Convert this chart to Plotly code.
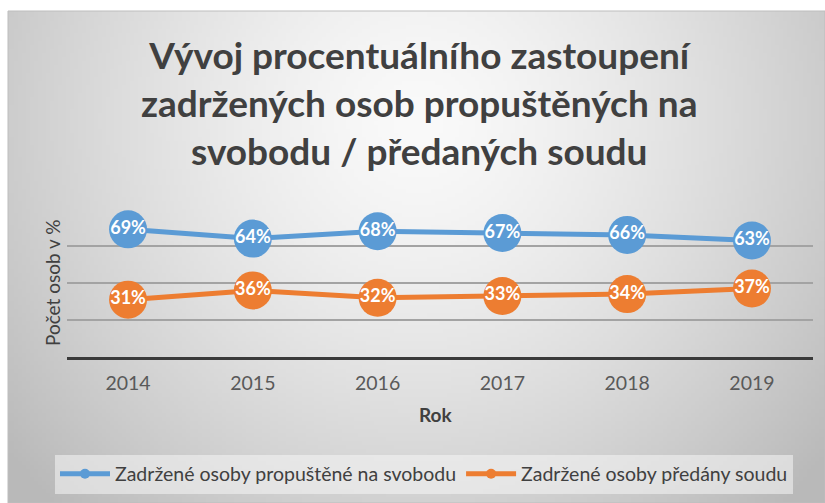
import base64
import struct
import zlib

import numpy as np
import plotly.graph_objects as go

years = ["2014", "2015", "2016", "2017", "2018", "2019"]
released_pct = [69, 64, 68, 67, 66, 63]
court_pct = [31, 36, 32, 33, 34, 37]
series_names = [
    "Zadržené osoby propuštěné na svobodu",
    "Zadržené osoby předány soudu",
]
chart_title = "Vývoj procentuálního zastoupení<br>zadržených osob propuštěných na<br>svobodu / předaných soudu"

BLUE = "#5B9BD5"
ORANGE = "#ED7D31"
TEXT = "#404040"
FONT = "Lato, 'Open Sans', sans-serif"

W, H = 825, 503


def px_x(x):
    return x / W


def px_y(y):
    return 1 - y / H


def gradient_png(w, h):
    """Radial grey gradient (light near the title) encoded as a PNG data URI."""
    yy, xx = np.mgrid[0:h, 0:w]
    cx, cy = 0.5 * w, 0.22 * h
    d = np.sqrt(((xx - cx) / (0.6 * w)) ** 2 + ((yy - cy) / (1.0 * h)) ** 2)
    v = 250 - 58 * np.clip(d, 0, 1.3) ** 1.4
    v = np.clip(v, 185, 255).astype(np.uint8)
    rgb = np.repeat(v[:, :, None], 3, axis=2)
    raw = b"".join(b"\x00" + row.tobytes() for row in rgb)

    def chunk(tag, data):
        return (struct.pack(">I", len(data)) + tag + data
                + struct.pack(">I", zlib.crc32(tag + data) & 0xFFFFFFFF))

    png = (b"\x89PNG\r\n\x1a\n"
           + chunk(b"IHDR", struct.pack(">IIBBBBB", w, h, 8, 2, 0, 0, 0))
           + chunk(b"IDAT", zlib.compress(raw, 9))
           + chunk(b"IEND", b""))
    return "data:image/png;base64," + base64.b64encode(png).decode()


fig = go.Figure()

for vals, color in [(released_pct, BLUE), (court_pct, ORANGE)]:
    fig.add_trace(go.Scatter(
        x=years, y=vals,
        mode="lines+markers+text",
        line=dict(color=color, width=5),
        marker=dict(color=color, size=38),
        text=[f"{v}%" for v in vals],
        textposition="middle center",
        textfont=dict(family=FONT, size=18, color="white", weight="bold"),
        cliponaxis=False,
        showlegend=False,
        hoverinfo="skip",
    ))

# legend-only entries with small markers
for name, color in zip(series_names, [BLUE, ORANGE]):
    fig.add_trace(go.Scatter(
        x=[None], y=[None], name=name,
        mode="lines+markers",
        line=dict(color=color, width=5),
        marker=dict(color=color, size=10),
    ))

fig.update_layout(
    width=W, height=H,
    margin=dict(l=0, r=0, t=0, b=0),
    paper_bgcolor="white",
    plot_bgcolor="rgba(0,0,0,0)",
    font=dict(family=FONT, color=TEXT),
    xaxis=dict(
        domain=[px_x(67), px_x(813)],
        type="category",
        showgrid=False,
        showline=True, linecolor="#3a3a3a", linewidth=2.5,
        ticks="",
        tickfont=dict(size=19.5, color="#595959"),
        ticklabelstandoff=7,
        fixedrange=True,
    ),
    yaxis=dict(
        domain=[px_y(357), px_y(209)],
        range=[0, 80],
        tickvals=[0, 20, 40, 60],
        showticklabels=False,
        gridcolor="#a3a3a3", gridwidth=1.5,
        zeroline=False,
        minor=dict(tickvals=[80], showgrid=True, gridcolor="#d6d6d6", gridwidth=1.5),
        fixedrange=True,
    ),
    legend=dict(
        orientation="h",
        x=px_x(424), xanchor="center",
        y=px_y(474), yanchor="middle",
        bgcolor="rgba(245,245,245,0.55)",
        font=dict(family=FONT, size=19.5, color=TEXT),
        itemwidth=50,
    ),
    images=[dict(
        source=gradient_png(204, 123),
        xref="paper", yref="paper",
        x=px_x(8), y=px_y(11),
        sizex=1 - px_x(8), sizey=px_y(11),
        xanchor="left", yanchor="top",
        sizing="stretch", layer="below",
    )],
    shapes=[dict(
        type="rect", xref="paper", yref="paper",
        x0=px_x(8), x1=1, y0=0, y1=px_y(11),
        line=dict(color="#bdbdbd", width=1), layer="below",
    )],
    annotations=[
        dict(
            text=chart_title, xref="paper", yref="paper",
            x=px_x(419), y=px_y(30), xanchor="center", yanchor="top",
            showarrow=False,
            font=dict(family=FONT, size=37, color=TEXT, weight="bold"),
        ),
        dict(
            text="Počet osob v %", xref="paper", yref="paper",
            x=px_x(52), y=px_y(283), xanchor="center", yanchor="middle",
            textangle=-90, showarrow=False,
            font=dict(family=FONT, size=19, color=TEXT),
        ),
        dict(
            text="<b>Rok</b>", xref="paper", yref="paper",
            x=px_x(436), y=px_y(414), xanchor="center", yanchor="middle",
            showarrow=False,
            font=dict(family=FONT, size=19, color=TEXT),
        ),
    ],
)

fig.write_html(
    "out.html",
    config={"displayModeBar": False},
    post_script="document.body.style.margin = '0px';",
)
